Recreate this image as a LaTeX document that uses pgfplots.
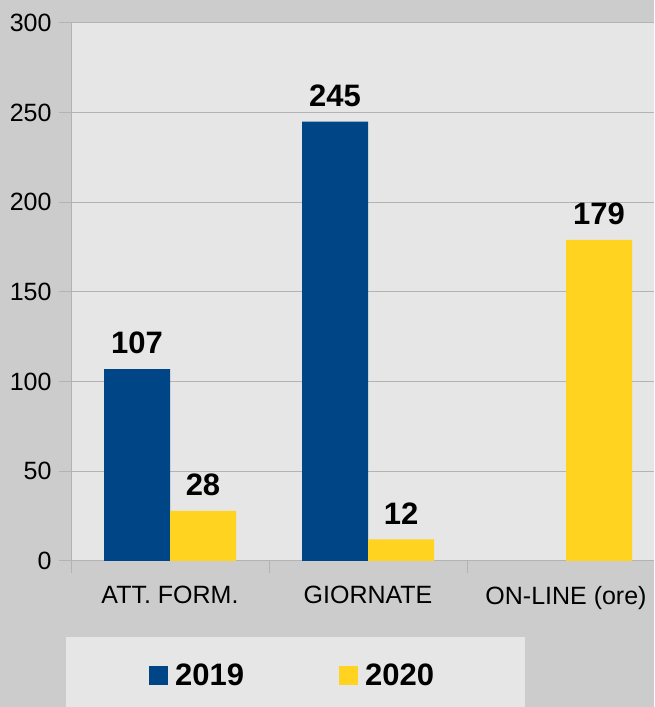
\documentclass[border=0pt]{standalone}
\usepackage{fontspec}
\setmainfont{Liberation Sans}
\usepackage{pgfplots}
\pgfplotsset{compat=1.18}
\definecolor{bg}{HTML}{CCCCCC}
\definecolor{plotbg}{HTML}{E6E6E6}
\definecolor{gridc}{HTML}{B3B3B3}
\definecolor{c2019}{HTML}{004586}
\definecolor{c2020}{HTML}{FFD320}

\begin{document}
\begin{tikzpicture}
\fill[bg] (0,0) rectangle (654pt,707pt);
\path[use as bounding box] (0,0) rectangle (654pt,707pt);
% legend panel, runs off the bottom like the original
\fill[plotbg] (66pt,-20pt) rectangle (525pt,70pt);
\begin{axis}[
  at={(71pt,146pt)}, anchor=south west,
  scale only axis, width=583pt, height=538pt,
  axis background/.style={fill=plotbg},
  ybar=0pt, bar width=66pt,
  xmin=-0.5, xmax=2.4444, ymin=0, ymax=300,
  ytick={0,50,...,300},
  xtick={-0.5,0.5,1.5}, xticklabels={},
  extra x ticks={0,1,2},
  extra x tick labels={ATT. FORM., GIORNATE, ON-LINE (ore)},
  extra x tick style={major tick length=0pt,
    tick label style={yshift=-22pt}},
  axis x line*=bottom, axis y line*=left,
  axis line style={draw=gridc, line width=1pt, -},
  tick style={draw=gridc, line width=1pt},
  tick align=outside, major tick length=12pt,
  ymajorgrids, grid style={draw=gridc, line width=1pt},
  tick label style={font=\fontsize{25}{30}\selectfont},
  yticklabel style={xshift=-4pt},
  /pgf/number format/assume math mode=true,
  nodes near coords,
  nodes near coords style={font=\fontsize{31}{36}\selectfont\bfseries,
    anchor=south, inner sep=0pt, yshift=15pt,
    /pgf/number format/assume math mode=true},
  legend columns=2,
  legend style={at={(axis description cs:0.1338,-0.2119)}, anchor=west,
    draw=none, fill=none, inner sep=0pt,
    font=\fontsize{31}{36}\selectfont\bfseries,
    nodes={inner sep=0pt},
    /tikz/every odd column/.append style={column sep=7pt},
    /tikz/every even column/.append style={column sep=95pt}},
  sq/.style={legend image code/.code={\fill[##1] (0pt,-9.5pt) rectangle (19pt,9.5pt);}},
]
\addplot[fill=c2019, draw=none, sq] coordinates {(0,107) (1,245)};
\addplot[fill=c2020, draw=none, sq] coordinates {(0,28) (1,12) (2,179)};
\legend{2019,2020}
\end{axis}
\end{tikzpicture}
\end{document}
